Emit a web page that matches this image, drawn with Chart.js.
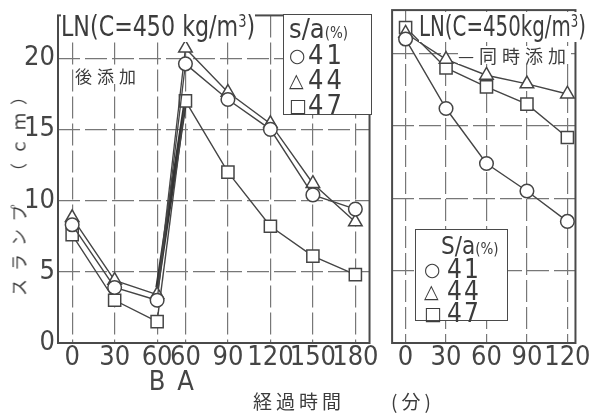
<!DOCTYPE html>
<html>
<head>
<meta charset="utf-8">
<script src="https://cdn.jsdelivr.net/npm/chart.js@4.4.0/dist/chart.umd.min.js"></script>
<style>
  body { margin: 0; width: 594px; height: 415px; background: #fff; position: relative; overflow: hidden;
         font-family: "Liberation Sans Narrow", "DejaVu Sans Condensed", "Liberation Sans", sans-serif; color: #3c3c3c; }
  .wrap { position: absolute; top: 0; height: 415px; }
  .txt { position: absolute; white-space: nowrap; background: #fff; line-height: 1; transform-origin: 0 0; }
  .jp { font-family: "Noto Sans CJK JP", sans-serif; }
  .legend { position: absolute; background: #fff; border: 1.5px solid #4a4a4a; box-sizing: border-box; }
  .legend div { white-space: nowrap; }
  .legend .sym { font-family: "DejaVu Sans", sans-serif; font-size: 19px; display: inline-block; vertical-align: 2px; }
</style>
</head>
<body>
<div class="wrap" style="left:0;width:382px"><canvas id="afterChart"></canvas></div>
<div class="wrap" style="left:382px;width:212px"><canvas id="sameChart"></canvas></div>

<!-- panel titles and notes -->
<div class="txt fit" data-w="194" style="left:61px;top:12px;font-size:29px;padding-bottom:1px">LN(C=450 kg/m<sup style="font-size:17px;vertical-align:9px">3</sup>)</div>
<div class="txt jp" style="left:75px;top:67px;font-size:17px;letter-spacing:5px">後添加</div>
<div class="txt fit" data-w="167" style="left:419px;top:12px;font-size:29px;padding-bottom:1px">LN(C=450kg/m<sup style="font-size:17px;vertical-align:9px">3</sup>)</div>
<div class="txt jp" style="left:458px;top:46px;font-size:18px;letter-spacing:5px">—同時添加</div>

<!-- legends -->
<div class="legend" style="left:283px;top:14px;width:89px;height:101px;padding-left:5px">
  <div style="font-size:27px;height:27px;line-height:27px">s/a<span style="font-size:15px">(%)</span></div>
  <div style="font-size:27px;height:25px;line-height:25px;letter-spacing:3px"><span class="sym" style="width:19px">○</span>41</div>
  <div style="font-size:27px;height:25px;line-height:25px;letter-spacing:3px"><span class="sym" style="width:19px">△</span>44</div>
  <div style="font-size:27px;height:25px;line-height:25px;letter-spacing:3px"><span class="sym" style="width:19px">□</span>47</div>
</div>
<div class="legend" style="left:415px;top:229px;width:93px;height:92px;padding-left:8px;padding-top:5px">
  <div style="font-size:24px;height:23px;line-height:23px;padding-left:17px">S/a<span style="font-size:15px">(%)</span></div>
  <div style="font-size:26px;height:22px;line-height:22px;letter-spacing:2px"><span class="sym" style="width:23px">○</span>41</div>
  <div style="font-size:26px;height:22px;line-height:22px;letter-spacing:2px"><span class="sym" style="width:23px">△</span>44</div>
  <div style="font-size:26px;height:22px;line-height:22px;letter-spacing:2px"><span class="sym" style="width:23px">□</span>47</div>
</div>

<!-- axis titles -->
<div class="txt jp" style="left:18px;top:188px;font-size:17px;letter-spacing:8px;transform-origin:50% 50%;transform:translate(-50%,-50%) rotate(-90deg);background:none">スランプ　（ｃｍ）</div>
<div class="txt jp" style="left:253px;top:391px;font-size:19px;letter-spacing:4px;background:none">経過時間　　(分)</div>

<script>
/* ── DATA ───────────────────────────────────────────────────── */
/* Left panel: late addition. The time axis is stretched so that
   60B and 60A sit side by side (60B at 60, 60A at 80, then +20). */
const afterTimes      = [0, 30, 60, 80, 110, 140, 170, 200];
const afterTickLabels = ['0', '30', '60', '60', '90', '120', '150', '180'];
const afterTickSub    = ['', '', 'B', 'A', '', '', '', ''];
const after41 = [8.3, 3.9, 3.0, 19.6, 17.1, 15.0, 10.4, 9.4];
const after44 = [8.8, 4.4, 3.4, 20.7, 17.6, 15.4, 11.2, 8.5];
const after47 = [7.6, 3.0, 1.5, 17.0, 12.0, 8.2, 6.1, 4.8];
/* thick retempering line from B up to the 47 % point at A */
const bridgeValues = [3.9, 17.0];

/* Right panel: simultaneous addition */
const sameTimes = [0, 30, 60, 90, 120];
const same41 = [21.0, 16.2, 12.4, 10.5, 8.4];
const same44 = [21.4, 19.6, 18.5, 17.9, 17.2];
const same47 = [21.8, 19.0, 17.7, 16.5, 14.2];

const slumpTicks = [0, 5, 10, 15, 20];

/* ── STYLE ──────────────────────────────────────────────────── */
const INK  = '#454545';
const GRID = '#777';
const TICK_FONT = { family: "'Liberation Sans Narrow', 'DejaVu Sans Condensed', 'Liberation Sans', sans-serif", size: 27, lineHeight: 0.92 };

const toPoints = (xs, ys) => xs.map((x, i) => ({ x, y: ys[i] }));

/* squeeze the narrow panel titles to the width they have in the figure */
document.querySelectorAll('.fit').forEach(el => {
  el.style.transform = `scaleX(${Number(el.dataset.w) / el.offsetWidth})`;
});

/* Draws the closed frame around each plot area */
const framePlugin = {
  id: 'frame',
  beforeDatasetsDraw(chart) {
    const { ctx, chartArea: a } = chart;
    ctx.save();
    ctx.strokeStyle = '#4a4a4a';
    ctx.lineWidth = 2;
    ctx.strokeRect(a.left, a.top, a.right - a.left, a.bottom - a.top);
    ctx.restore();
  },
};

function series(data, style, extra = {}) {
  return Object.assign({
    data,
    pointStyle: style,
    pointRadius: style === 'rect' ? 8.6 : style === 'triangle' ? 7.8 : 6.8,
    pointBackgroundColor: '#fff',
    pointBorderColor: INK,
    pointBorderWidth: 1.5,
    borderColor: INK,
    borderWidth: 1.4,
    tension: 0,
    order: 1,
  }, extra);
}

function scales(ticksX, labelX, showY, yWidth) {
  return {
    x: {
      type: 'linear',
      min: -10,
      max: ticksX.max,
      afterBuildTicks: s => { s.ticks = ticksX.values.map(v => ({ value: v })); },
      afterFit: s => { s.height = 72; },
      grid: { color: GRID, lineWidth: 1.2, drawTicks: false },
      border: { display: false, dash: [22, 5] },
      ticks: { font: TICK_FONT, color: INK, padding: 3, maxRotation: 0, autoSkip: false,
               callback: (v, i) => labelX(i) },
    },
    y: {
      min: 0,
      max: 23,
      afterBuildTicks: s => { s.ticks = slumpTicks.map(v => ({ value: v })); },
      afterFit: s => { s.width = yWidth; },
      grid: { color: GRID, lineWidth: 1.2, drawTicks: false },
      border: { display: false, dash: [22, 5] },
      ticks: { display: showY, font: TICK_FONT, color: INK, padding: 3 },
    },
  };
}

Chart.defaults.animation = false;
Chart.defaults.plugins.legend.display = false;
Chart.defaults.plugins.tooltip.enabled = false;

/* ── LEFT PANEL: 後添加 ─────────────────────────────────────── */
/* the B→A step is a thin line for 41/44 and hidden for 47 (drawn by the bridge) */
const bStep = w => ({ borderWidth: c => c.p0DataIndex === 2 ? w : 1.4 });

new Chart(document.getElementById('afterChart'), {
  type: 'line',
  data: {
    datasets: [
      { data: toPoints([60, 80], bridgeValues), borderColor: '#333', borderWidth: 3.6, pointRadius: 0, order: 2 },
      series(toPoints(afterTimes, after41), 'circle',   { segment: bStep(1.3) }),
      series(toPoints(afterTimes, after44), 'triangle', { segment: bStep(1.3) }),
      series(toPoints(afterTimes, after47), 'rect',     { segment: bStep(0) }),
    ],
  },
  options: {
    responsive: true,
    maintainAspectRatio: false,
    layout: { padding: { top: 10, right: 5, left: 0, bottom: 0 } },
    scales: scales({ values: afterTimes, max: 210 }, i => [afterTickLabels[i], afterTickSub[i]], true, 58),
  },
  plugins: [framePlugin],
});

/* ── RIGHT PANEL: 同時添加 ─────────────────────────────────── */
new Chart(document.getElementById('sameChart'), {
  type: 'line',
  data: {
    datasets: [
      series(toPoints(sameTimes, same41), 'circle'),
      series(toPoints(sameTimes, same44), 'triangle'),
      series(toPoints(sameTimes, same47), 'rect'),
    ],
  },
  options: {
    responsive: true,
    maintainAspectRatio: false,
    layout: { padding: { top: 10, right: 7, left: 0, bottom: 0 } },
    scales: scales({ values: sameTimes, max: 126 }, i => [String(sameTimes[i]), ''], false, 6),
  },
  plugins: [framePlugin],
});
</script>
</body>
</html>
